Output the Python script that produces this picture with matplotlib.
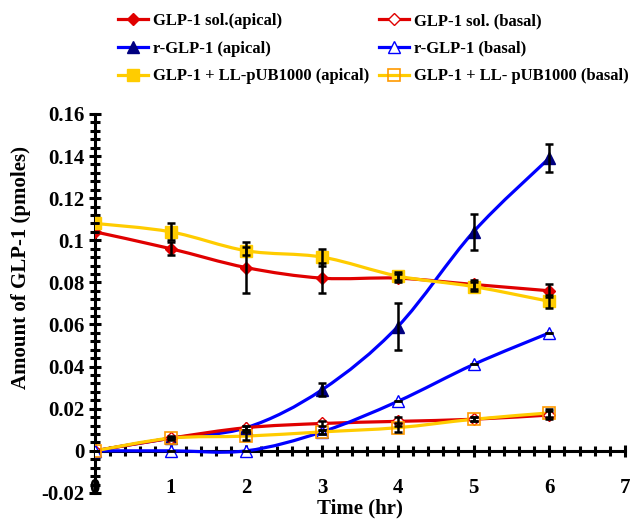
import numpy as np
import matplotlib
matplotlib.use("Agg")
import matplotlib.pyplot as plt
from matplotlib.path import Path
from matplotlib.patches import PathPatch
from matplotlib.lines import Line2D
from matplotlib.ticker import MultipleLocator, FixedLocator, FixedFormatter

plt.rcParams['font.family'] = ['Liberation Serif', 'DejaVu Serif']
plt.rcParams['font.weight'] = 'bold'

# Sampling times (hr)
time_hr = [0, 1, 2, 3, 4, 5, 6]

# Amount of GLP-1 (pmoles) and standard deviations
sol_apical = [0.104, 0.096, 0.087, 0.082, 0.082, 0.079, 0.076]
sol_apical_err = [0.0, 0.003, 0.012, 0.007, 0.002, 0.002, 0.003]
sol_basal = [0.0, 0.006, 0.011, 0.013, 0.014, 0.015, 0.017]
sol_basal_err = [0.0, 0.0, 0.001, 0.001, 0.002, 0.001, 0.002]

r_apical = [0.0, 0.006, 0.011, 0.029, 0.059, 0.104, 0.139]
r_apical_err = [0.0, 0.001, 0.001, 0.003, 0.011, 0.0085, 0.0065]
r_basal = [0.0, 0.0, 0.0, 0.009, 0.0235, 0.041, 0.056]
r_basal_err = [0.0, 0.0, 0.0, 0.001, 0.0, 0.0, 0.0]

ll_apical = [0.108, 0.104, 0.095, 0.092, 0.083, 0.078, 0.071]
ll_apical_err = [0.0, 0.004, 0.002, 0.004, 0.002, 0.002, 0.003]
ll_basal = [0.0, 0.006, 0.007, 0.009, 0.011, 0.015, 0.018]
ll_basal_err = [0.0, 0.0, 0.002, 0.001, 0.002, 0.001, 0.002]

series_labels = [
    "GLP-1 sol.(apical)", "r-GLP-1 (apical)", "GLP-1 + LL-pUB1000 (apical)",
    "GLP-1 sol. (basal)", "r-GLP-1 (basal)", "GLP-1 + LL- pUB1000 (basal)",
]

x_tick_labels = ["0", "1", "2", "3", "4", "5", "6", "7"]
y_tick_values = [-0.02, 0.0, 0.02, 0.04, 0.06, 0.08, 0.10, 0.12, 0.14, 0.16]
y_tick_labels = ["-0.02", "0", "0.02", "0.04", "0.06", "0.08", "0.1", "0.12", "0.14", "0.16"]


def smooth_path(xs, ys):
    """Cubic Bezier path through the points (Catmull-Rom style smoothing)."""
    pts = np.column_stack([xs, ys]).astype(float)
    n = len(pts)
    verts = [pts[0]]
    codes = [Path.MOVETO]
    for i in range(n - 1):
        p0 = pts[i - 1] if i > 0 else pts[i]
        p1 = pts[i]
        p2 = pts[i + 1]
        p3 = pts[i + 2] if i + 2 < n else pts[i + 1]
        c1 = p1 + (p2 - p0) / 6.0
        c2 = p2 - (p3 - p1) / 6.0
        verts += [c1, c2, p2]
        codes += [Path.CURVE4] * 3
    return Path(verts, codes)


fig = plt.figure(figsize=(6.41, 5.2), dpi=100)
ax = fig.add_axes([0.148, 0.052, 0.827, 0.729])

RED = "#E00000"
BLUE = "#0000FF"
NAVY = "#000080"
YELLOW = "#FFCC00"
ORANGE = "#FF9900"

styles = [
    (sol_apical, sol_apical_err, RED, dict(marker="D", mfc=RED, mec=RED, ms=6)),
    (r_apical, r_apical_err, BLUE, dict(marker="^", mfc=NAVY, mec=NAVY, ms=8)),
    (ll_apical, ll_apical_err, YELLOW, dict(marker="s", mfc=YELLOW, mec=YELLOW, ms=8)),
    (sol_basal, sol_basal_err, RED, dict(marker="D", mfc="white", mec=RED, ms=6, mew=1.0)),
    (r_basal, r_basal_err, BLUE, dict(marker="^", mfc="white", mec=BLUE, ms=8, mew=1.0)),
    (ll_basal, ll_basal_err, YELLOW, dict(marker="s", mfc="none", mec=ORANGE, ms=8, mew=1.2)),
]

handles = []
for (vals, errs, col, mk), lab in zip(styles, series_labels):
    ax.add_patch(PathPatch(smooth_path(time_hr, vals), fill=False, ec=col,
                           lw=2.3, zorder=3, capstyle="round"))
    ax.plot(time_hr, vals, ls="none", zorder=4, **mk)
    ax.errorbar(time_hr, vals, yerr=errs, fmt="none", ecolor="black",
                elinewidth=1.8, capsize=3, capthick=1.8, zorder=5)
    handles.append(Line2D([], [], color=col, lw=2.3, label=lab, **mk))

ax.set_xlim(0, 7)
ax.set_ylim(-0.02, 0.16)

for s in ("top", "right"):
    ax.spines[s].set_visible(False)
ax.spines["bottom"].set_position(("data", 0))
ax.spines["left"].set_linewidth(2.2)
ax.spines["bottom"].set_linewidth(2.2)

ax.xaxis.set_major_locator(FixedLocator(range(len(x_tick_labels))))
ax.xaxis.set_major_formatter(FixedFormatter(x_tick_labels))
ax.xaxis.set_minor_locator(MultipleLocator(0.2))
ax.yaxis.set_major_locator(FixedLocator(y_tick_values))
ax.yaxis.set_major_formatter(FixedFormatter(y_tick_labels))
ax.yaxis.set_minor_locator(MultipleLocator(0.004))

ax.tick_params(axis="x", which="major", direction="inout", length=9, width=2.2,
               pad=15, labelsize=15)
ax.tick_params(axis="x", which="minor", direction="inout", length=7, width=2.2)
ax.tick_params(axis="y", which="major", direction="inout", length=9, width=2.2,
               pad=3, labelsize=15)
ax.tick_params(axis="y", which="minor", direction="inout", length=7, width=2.2)
for t in ax.get_xticklabels() + ax.get_yticklabels():
    t.set_fontweight("bold")

ax.set_xlabel("Time (hr)", fontsize=15, fontweight="bold")
ax.set_ylabel("Amount of GLP-1 (pmoles)", fontsize=15, fontweight="bold")
ax.xaxis.set_label_coords(0.5, -0.04)
ax.xaxis.label.set_va("center")
ax.yaxis.set_label_coords(-0.14, 0.596)
ax.yaxis.label.set_va("center")

fig.legend(handles=handles, ncol=2, loc="upper left", bbox_to_anchor=(0.168, 0.994),
           frameon=False, prop={"size": 12, "weight": "bold"}, handlelength=1.8,
           handletextpad=0.3, columnspacing=0.6, labelspacing=0.7, borderaxespad=0.2)

fig.savefig("out.png", dpi=100)
